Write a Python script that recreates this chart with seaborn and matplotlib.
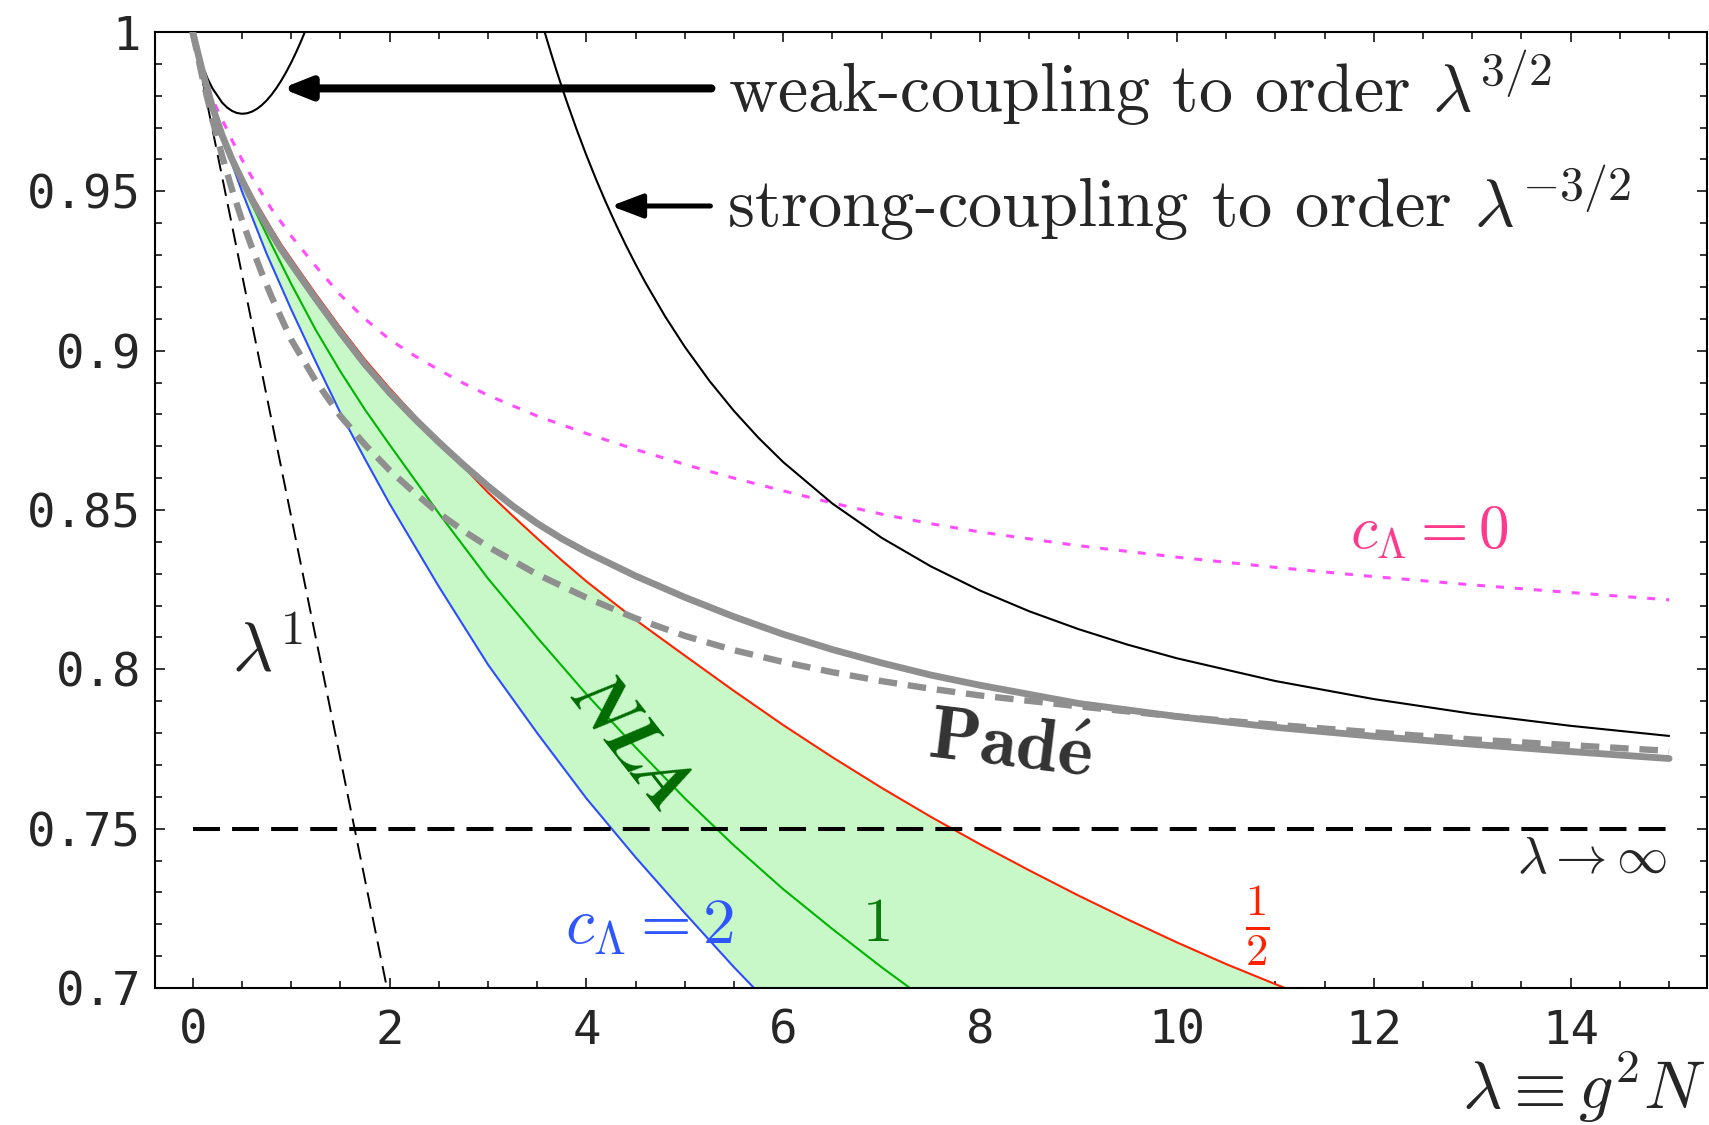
import numpy as np
import matplotlib
matplotlib.use("Agg")
import matplotlib.pyplot as plt
import seaborn as sns

# ---------------------------------------------------------------------------
# Entropy ratio s/s0 versus 't Hooft coupling lambda = g^2 N
# ---------------------------------------------------------------------------

# weak-coupling expansion to order lambda^(3/2)
lam_weak = [0.0, 0.025, 0.05, 0.1, 0.15, 0.2, 0.3, 0.35, 0.4, 0.45, 0.5, 0.55, 0.6,
            0.65, 0.7, 0.75, 0.8, 0.85, 0.9, 0.95, 1.0, 1.05, 1.1, 1.15]
s_weak = [1.0, 0.99676, 0.99399, 0.98930, 0.98547, 0.98234, 0.97780, 0.97629, 0.97522,
          0.97458, 0.97434, 0.97448, 0.97498, 0.97582, 0.97699, 0.97848, 0.98028,
          0.98238, 0.98477, 0.98744, 0.99038, 0.99359, 0.99706, 1.00079]

# strong-coupling expansion to order lambda^(-3/2)
lam_strong = [3.5, 3.55, 3.6, 3.65, 3.7, 3.75, 3.8, 3.9, 4.0, 4.1, 4.2, 4.3, 4.4, 4.5,
              4.6, 4.8, 5.0, 5.25, 5.5, 5.75, 6.0, 6.5, 7.0, 7.5, 8.0, 8.5, 9.0, 9.5,
              10.0, 11.0, 12.0, 13.0, 14.0, 15.0]
s_strong = [1.00816, 1.00272, 0.99748, 0.99241, 0.98751, 0.98278, 0.97820, 0.96948,
            0.96130, 0.95362, 0.94639, 0.93958, 0.93315, 0.92708, 0.92134, 0.91074,
            0.90119, 0.89052, 0.88105, 0.87260, 0.86502, 0.85200, 0.84127, 0.83230,
            0.82471, 0.81821, 0.81261, 0.80773, 0.80346, 0.79633, 0.79066, 0.78606,
            0.78227, 0.77910]

# leading-order (lambda^1) truncation
lam_lin = [0.0, 2.0]
s_lin = [1.0, 0.696]

# NLA, c_Lambda = 2
lam_c2 = [0.0, 0.1, 0.25, 0.5, 0.75, 1.0, 1.25, 1.5, 1.75, 2.0, 2.5, 3.0, 3.5, 4.0,
          4.5, 5.0, 5.5, 5.75]
s_c2 = [1.0, 0.9875, 0.9715, 0.950, 0.9305, 0.913, 0.8965, 0.8805, 0.866, 0.852,
        0.826, 0.8015, 0.780, 0.7595, 0.741, 0.7235, 0.7065, 0.6985]

# NLA, c_Lambda = 1
lam_c1 = [0.0, 0.1, 0.25, 0.5, 0.75, 1.0, 1.25, 1.5, 1.75, 2.0, 2.5, 3.0, 3.5, 4.0,
          4.5, 5.0, 5.5, 6.0, 6.5, 7.0, 7.45]
s_c1 = [1.0, 0.9875, 0.972, 0.9525, 0.9365, 0.921, 0.9065, 0.8935, 0.8815, 0.8705,
        0.849, 0.8285, 0.810, 0.7922, 0.7755, 0.7595, 0.7447, 0.731, 0.7185, 0.7065,
        0.6963]

# NLA, c_Lambda = 1/2
lam_c12 = [0.0, 0.1, 0.2, 0.3, 0.4, 0.5, 0.6, 0.8, 0.9, 1.0, 1.25, 1.5, 1.75, 2.0,
           2.25, 2.5, 2.75, 3.0, 3.25, 3.5, 3.75, 4.0, 4.5, 5.0, 5.5, 6.0, 6.5, 7.0,
           7.5, 8.0, 8.5, 9.0, 9.5, 10.0, 10.5, 11.0, 11.3]
s_c12 = [1.0, 0.988, 0.9772, 0.9685, 0.9612, 0.9548, 0.9488, 0.9383, 0.9333, 0.9288,
         0.9178, 0.9072, 0.8972, 0.8882, 0.8798, 0.8718, 0.8636, 0.8555, 0.8482,
         0.8411, 0.8342, 0.8276, 0.8155, 0.8043, 0.7932, 0.7825, 0.7724, 0.7628,
         0.7537, 0.7451, 0.7369, 0.7290, 0.7215, 0.7143, 0.7075, 0.7012, 0.6975]

# NLA, c_Lambda = 0
lam_c0 = [0.0, 0.1, 0.2, 0.3, 0.4, 0.5, 0.6, 0.8, 1.0, 1.25, 1.5, 1.75, 2.0, 2.25,
          2.5, 2.75, 3.0, 3.5, 4.0, 4.5, 5.0, 5.5, 6.0, 6.5, 7.0, 7.5, 8.0, 9.0,
          10.0, 11.0, 12.0, 13.0, 14.0, 15.0]
s_c0 = [1.0, 0.9885, 0.979, 0.9725, 0.966, 0.960, 0.9545, 0.9445, 0.936, 0.9265,
        0.9175, 0.910, 0.9035, 0.8985, 0.894, 0.8898, 0.886, 0.8795, 0.874, 0.869,
        0.8643, 0.860, 0.856, 0.8522, 0.8487, 0.8457, 0.8431, 0.8388, 0.8352, 0.832,
        0.8291, 0.8265, 0.8241, 0.8218]

# Pade interpolation (solid)
lam_pade = [0.0, 0.1, 0.2, 0.3, 0.4, 0.5, 0.6, 0.7, 0.8, 0.9, 1.0, 1.25, 1.5, 1.75,
            2.0, 2.25, 2.5, 2.75, 3.0, 3.25, 3.5, 3.75, 4.0, 4.5, 5.0, 5.5, 6.0, 6.5,
            7.0, 7.5, 8.0, 9.0, 10.0, 11.0, 12.0, 13.0, 14.0, 15.0]
s_pade = [1.0, 0.9875, 0.9765, 0.9675, 0.960, 0.9535, 0.9475, 0.942, 0.9368, 0.9318,
          0.9273, 0.9163, 0.9057, 0.8957, 0.8868, 0.8788, 0.8713, 0.8642, 0.8575,
          0.8513, 0.8458, 0.8410, 0.8368, 0.8293, 0.8226, 0.8165, 0.8110, 0.8062,
          0.8020, 0.7982, 0.7950, 0.7893, 0.7852, 0.7818, 0.7790, 0.7765, 0.7742,
          0.7720]

# Pade interpolation (dashed)
lam_pade2 = [0.0, 0.1, 0.2, 0.3, 0.4, 0.5, 0.6, 0.7, 0.8, 1.0, 1.25, 1.5, 1.75, 2.0,
             2.25, 2.5, 2.75, 3.0, 3.5, 4.0, 4.5, 5.0, 5.5, 6.0, 6.5, 7.0, 7.5, 8.0,
             9.0, 10.0, 11.0, 12.0, 13.0, 14.0, 15.0]
s_pade2 = [1.0, 0.9855, 0.9725, 0.961, 0.9505, 0.941, 0.9325, 0.9245, 0.917, 0.9035,
           0.8905, 0.8795, 0.8705, 0.8625, 0.8555, 0.849, 0.8435, 0.8385, 0.8298,
           0.8225, 0.816, 0.8105, 0.806, 0.8023, 0.7991, 0.7963, 0.7939, 0.7918,
           0.7884, 0.7852, 0.7826, 0.7802, 0.778, 0.7762, 0.7744]

# strict-coupling limit
lam_inf = [0.0, 15.0]
s_inf = [0.75, 0.75]

x_ticks = [0, 2, 4, 6, 8, 10, 12, 14]
x_ticklabels = ["0", "2", "4", "6", "8", "10", "12", "14"]
y_ticks = [0.7, 0.75, 0.8, 0.85, 0.9, 0.95, 1.0]
y_ticklabels = ["0.7", "0.75", "0.8", "0.85", "0.9", "0.95", "1"]

# ---------------------------------------------------------------------------
sns.set_style("ticks")
plt.rcParams["font.family"] = ["cmr10", "DejaVu Serif"]
plt.rcParams["mathtext.fontset"] = "cm"
plt.rcParams["axes.formatter.use_mathtext"] = True
plt.rcParams["axes.unicode_minus"] = False

W, H = 1709, 1125
fig = plt.figure(figsize=(W / 100, H / 100), dpi=100)
ax = fig.add_axes([155 / W, 1 - 988 / H, (1706.5 - 155) / W, (988 - 32) / H])

GRAY = "#8f8f8f"


def curve(x, y, **kw):
    sns.lineplot(x=x, y=y, ax=ax, estimator=None, sort=False, legend=False, **kw)


# NLA band between c_Lambda = 2 and c_Lambda = 1/2
ax.fill(np.r_[lam_c2, lam_c12[::-1]], np.r_[s_c2, s_c12[::-1]],
        color="#c8f8c8", lw=0, zorder=1)

curve(lam_c2, s_c2, color="#2b4dff", lw=1.5, zorder=2)
curve(lam_c1, s_c1, color="#00b400", lw=1.5, zorder=2)
curve(lam_c12, s_c12, color="#ff2200", lw=1.5, zorder=2)
curve(lam_c0, s_c0, color="#ff4dff", lw=2.2, linestyle=(0, (2.6, 3.6)), zorder=2.5)

curve(lam_weak, s_weak, color="black", lw=1.5, zorder=3)
curve(lam_strong, s_strong, color="black", lw=1.5, zorder=3)
curve(lam_lin, s_lin, color="black", lw=1.4, linestyle=(0, (8.6, 4.3)), zorder=3)

curve(lam_pade2, s_pade2, color=GRAY, lw=4.6, linestyle=(0, (2.9, 1.7)), zorder=4)
curve(lam_pade, s_pade, color=GRAY, lw=4.9, zorder=4.2, solid_capstyle="round")

curve(lam_inf, s_inf, color="black", lw=2.9, linestyle=(0, (6.7, 3.0)), zorder=5)

# axes
ax.set_xlim(-0.383, 15.38)
ax.set_ylim(0.7, 1.0)
ax.set_xlabel("")
ax.set_ylabel("")
ax.set_xticks(x_ticks, x_ticklabels)
ax.set_yticks(y_ticks, y_ticklabels)
ax.set_xticks(np.arange(0, 15.01, 0.5), minor=True)
ax.set_yticks(np.arange(0.7, 1.0001, 0.01), minor=True)
ax.tick_params(which="both", direction="in", top=True, right=True, width=1.1,
               color="black", labelfontfamily="DejaVu Sans Mono", labelsize=34)
ax.tick_params(which="major", length=7.5)
ax.tick_params(which="minor", length=4.8)
ax.tick_params(axis="x", which="major", pad=15)
ax.tick_params(axis="y", which="major", pad=10)
for sp in ax.spines.values():
    sp.set_visible(True)
    sp.set_linewidth(1.5)
    sp.set_color("black")

# annotations
ax.annotate("", xy=(0.907, 0.9823), xytext=(5.27, 0.9823),
            arrowprops=dict(arrowstyle="-|>,head_length=0.5,head_width=0.2",
                            lw=5.8, color="black", mutation_scale=33,
                            shrinkA=0, shrinkB=0), zorder=6)
ax.annotate("", xy=(4.25, 0.9454), xytext=(5.26, 0.9454),
            arrowprops=dict(arrowstyle="-|>,head_length=0.58,head_width=0.22",
                            lw=3.6, color="black", mutation_scale=33,
                            shrinkA=0, shrinkB=0), zorder=6)
ax.text(5.44, 0.9749, r"weak-coupling to order $\lambda^{3/2}$", fontsize=49,
        ha="left", va="baseline", zorder=6)
ax.text(5.43, 0.9387, r"strong-coupling to order $\lambda^{-3/2}$", fontsize=49.4,
        ha="left", va="baseline", zorder=6)

ax.text(0.76, 0.8054, r"$\lambda^1$", fontsize=50, ha="center", va="center", zorder=6)
ax.text(4.46, 0.7765, "NLA", fontsize=54, color="#006b00", family="STIXGeneral",
        weight="bold", style="italic", rotation=-52, ha="center", va="center",
        zorder=6)
ax.text(8.30, 0.7752, r"$\mathbf{Pad\acute{e}}$", fontsize=54, color="#333333",
        rotation=-7, ha="center", va="center", zorder=6)
ax.text(12.57, 0.8428, r"$c_\Lambda = 0$", fontsize=44, color="#ff3a8c",
        ha="center", va="center", zorder=6)
ax.text(4.645, 0.719, r"$c_\Lambda = 2$", fontsize=47, color="#2f55ff",
        ha="center", va="center", zorder=6)
ax.text(6.94, 0.7196, r"$1$", fontsize=44, color="#0a7a0a",
        ha="center", va="center", zorder=6)
ax.text(10.81, 0.7196, r"$\frac{1}{2}$", fontsize=46, color="#ff2200",
        ha="center", va="center", zorder=6)
ax.text(14.98, 0.740, r"$\lambda \rightarrow \infty$", fontsize=37,
        ha="right", va="center", zorder=6)

fig.text(0.9977, 0.014, r"$\lambda \equiv g^2N$", fontsize=49, ha="right",
         va="baseline")

fig.savefig("out.png", dpi=100)
